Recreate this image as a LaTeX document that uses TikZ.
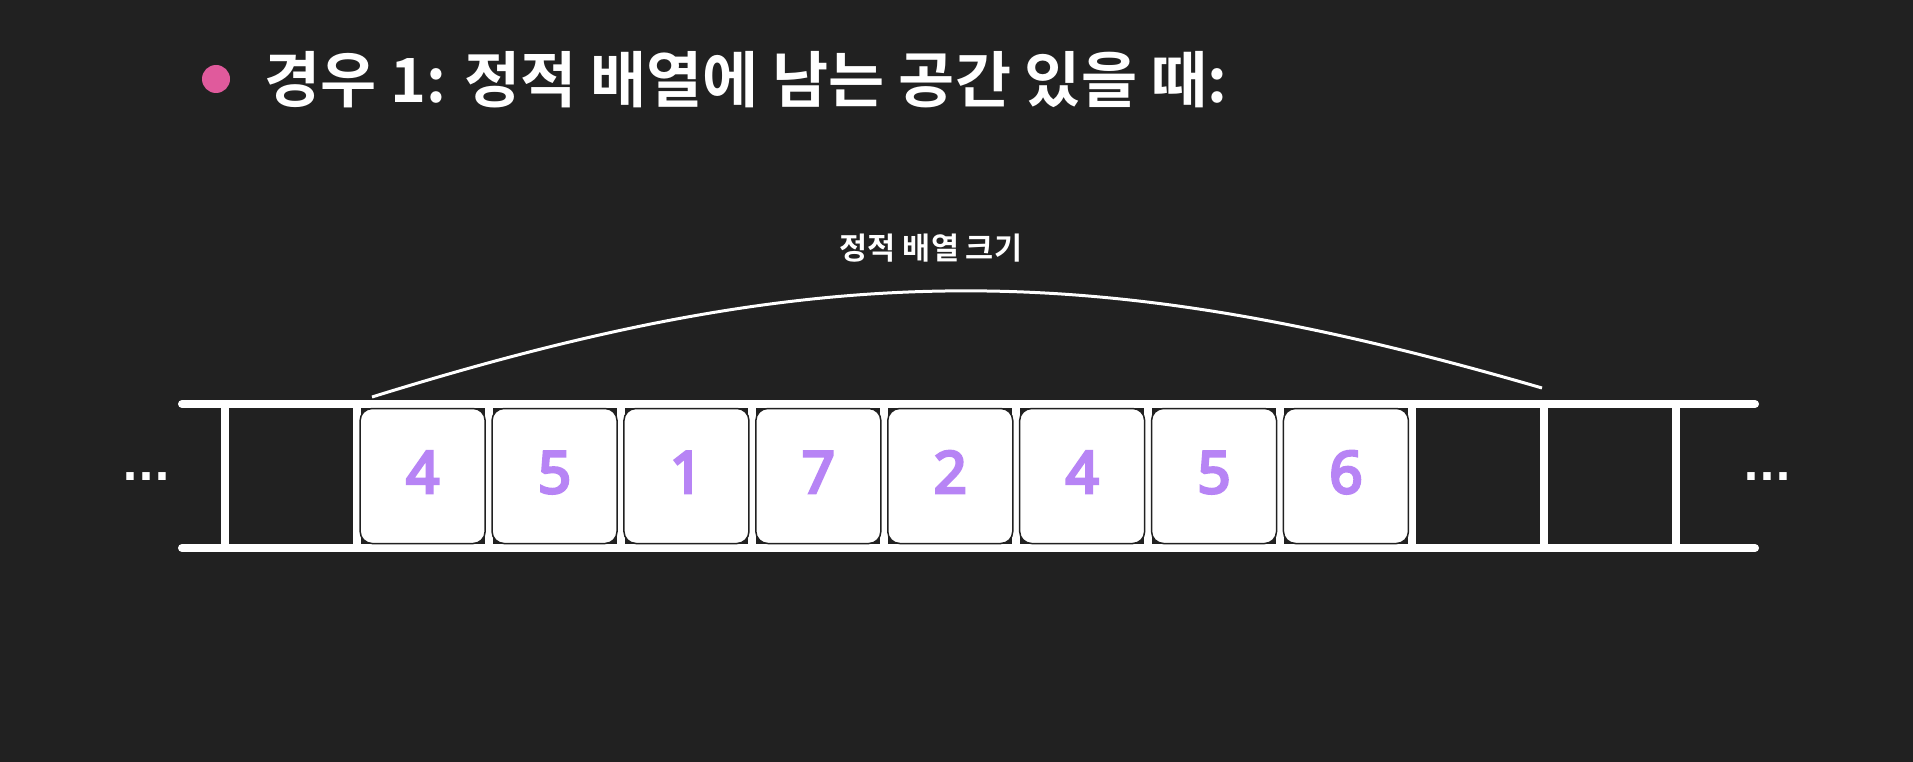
\documentclass[tikz,border=0pt]{standalone}
\usepackage{fontspec}
\newfontfamily\krfont{Noto Sans CJK KR Bold}
\newfontfamily\digitfont{Noto Sans}[FakeBold=5]
\newfontfamily\dotfont{DejaVu Sans}
\definecolor{bgc}{HTML}{212121}
\definecolor{pinkc}{HTML}{E05A9C}
\definecolor{numc}{HTML}{B784F5}
\begin{document}
\begin{tikzpicture}[x=1pt,y=-1pt,
  rail/.style={draw=white,line width=8pt,line cap=round},
  divider/.style={draw=white,line width=8pt},
  cellbox/.style={fill=white,draw=bgc,line width=1.5pt,rounded corners=12pt,
    minimum width=125pt,minimum height=135pt,inner sep=0pt},
  numtext/.style={text=numc,font=\digitfont\fontsize{58}{60}\selectfont,anchor=base,inner sep=0pt},
  dots/.style={text=white,font=\dotfont\bfseries\fontsize{42}{44}\selectfont,inner sep=0pt,anchor=base west},
  arcline/.style={draw=white,line width=3pt}
]
\fill[bgc] (0,0) rectangle (1913,762);
\useasboundingbox (0,0) rectangle (1913,762);
% title
\node[circle,fill=pinkc,minimum size=28pt,inner sep=0pt] (bullet) at (216,79) {};
\node[anchor=base west,inner sep=0pt,text=white,font=\krfont\fontsize{61}{63}\selectfont] (title) at (264,103) {경우 1: 정적 배열에 남는 공간 있을 때:};
% rails
\draw[rail] (182,404) -- (1755,404);
\draw[rail] (182,548) -- (1755,548);
\foreach \k in {0,...,11}{
  \draw[divider] ({224.8+131.9*\k},404) -- ({224.8+131.9*\k},548);
}
% boxes
\foreach \v [count=\k] in {4,5,1,7,2,4,5,6}{
  \node[cellbox] (box\k) at ({224.8+131.9*(\k+0.5)},476) {};
  \node[numtext] (num\k) at ({224.8+131.9*(\k+0.5)},493) {\v};
}
% dots
\node[dots] (ldots) at (122,480) {...};
\node[dots] (rdots) at (1743,480) {...};
% arc and label
\coordinate (arcL) at (372,397);
\coordinate (arcR) at (1542,388);
\draw[arcline] (arcL) .. controls (822,257) and (1092,257) .. (arcR);
\node[anchor=base,inner sep=0pt,text=white,font=\krfont\fontsize{30.5}{32}\selectfont] (size) at (931,259) {정적 배열 크기};
\end{tikzpicture}
\end{document}
